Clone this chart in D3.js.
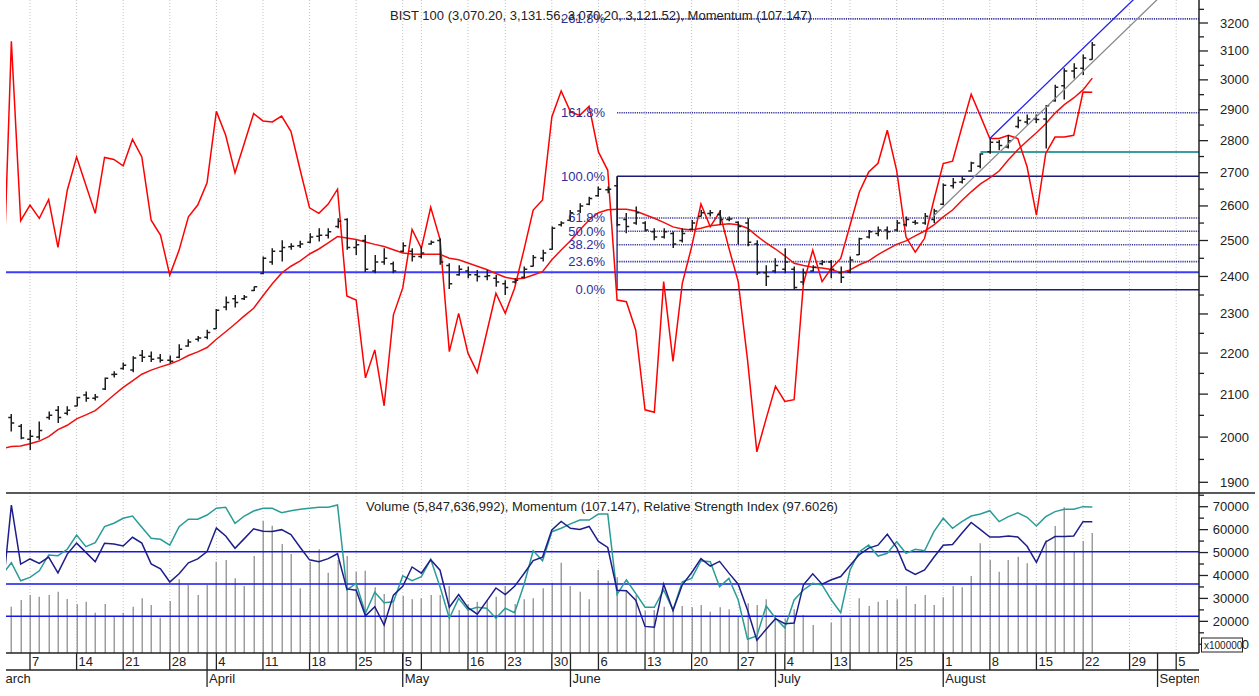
<!DOCTYPE html>
<html>
<head>
<meta charset="utf-8">
<script src="https://d3js.org/d3.v7.min.js"></script>
<style>
    body { margin: 0; background: #ffffff; }
    svg { display: block; }
    text {
        font-family: "Liberation Sans", Arial, sans-serif;
        font-size: 13px;
        fill: #222222;
    }
    text.fib-label { fill: #2e2e9a; }
    text.unit { font-size: 10px; }
</style>
</head>
<body>
<div id="container"></div>
<script>
    // trading days shown on the chart
    const dates = [
        "2022-03-02","2022-03-03","2022-03-04","2022-03-07","2022-03-08","2022-03-09","2022-03-10","2022-03-11",
        "2022-03-14","2022-03-15","2022-03-16","2022-03-17","2022-03-18","2022-03-21","2022-03-22","2022-03-23",
        "2022-03-24","2022-03-25","2022-03-28","2022-03-29","2022-03-30","2022-03-31",
        "2022-04-01","2022-04-04","2022-04-05","2022-04-06","2022-04-07","2022-04-08","2022-04-11","2022-04-12",
        "2022-04-13","2022-04-14","2022-04-15","2022-04-18","2022-04-19","2022-04-20","2022-04-21","2022-04-22",
        "2022-04-25","2022-04-26","2022-04-27","2022-04-28","2022-04-29",
        "2022-05-05","2022-05-06","2022-05-09","2022-05-10","2022-05-11","2022-05-12","2022-05-13","2022-05-16",
        "2022-05-17","2022-05-18","2022-05-20","2022-05-23","2022-05-24","2022-05-25","2022-05-26","2022-05-27",
        "2022-05-30","2022-05-31",
        "2022-06-01","2022-06-02","2022-06-03","2022-06-06","2022-06-07","2022-06-08","2022-06-09","2022-06-10",
        "2022-06-13","2022-06-14","2022-06-15","2022-06-16","2022-06-17","2022-06-20","2022-06-21","2022-06-22",
        "2022-06-23","2022-06-24","2022-06-27","2022-06-28","2022-06-29","2022-06-30",
        "2022-07-01","2022-07-04","2022-07-05","2022-07-06","2022-07-07","2022-07-08","2022-07-13","2022-07-14",
        "2022-07-18","2022-07-19","2022-07-20","2022-07-21","2022-07-22","2022-07-25","2022-07-26","2022-07-27",
        "2022-07-28","2022-07-29",
        "2022-08-01","2022-08-02","2022-08-03","2022-08-04","2022-08-05","2022-08-08","2022-08-09","2022-08-10",
        "2022-08-11","2022-08-12","2022-08-15","2022-08-16","2022-08-17","2022-08-18","2022-08-19","2022-08-22",
        "2022-08-23"
    ];
    // empty days on the right of the time axis
    const futureDays = ["2022-08-24","2022-08-25","2022-08-26","2022-08-29","2022-08-30","2022-08-31",
        "2022-09-01","2022-09-02","2022-09-05","2022-09-06","2022-09-07","2022-09-08","2022-09-09"];
    const firstAxisDay = "2022-03-01";

    // BIST 100 prices (by month: Mar, Apr, May, Jun, Jul, Aug)
    const open = [
        1985, 2045, 2025, 1995, 2000, 2045, 2062, 2055, 2072, 2098, 2090, 2112, 2147, 2162, 2158, 2195, 2192, 2188, 2182, 2190, 2218, 2235,
        2240, 2262, 2318, 2340, 2340, 2362, 2408, 2440, 2470, 2482, 2485, 2495, 2512, 2515, 2540, 2560, 2480, 2500, 2415, 2440, 2435,
        2470, 2470, 2455, 2490, 2500, 2430, 2405, 2415, 2405, 2400, 2395, 2380, 2385, 2398, 2428, 2450, 2475, 2545,
        2558, 2585, 2605, 2630, 2648, 2660, 2560, 2550, 2550, 2525, 2510, 2520, 2500, 2532, 2570, 2578, 2575, 2560, 2552, 2550, 2490, 2410,
        2415, 2420, 2420, 2385, 2415, 2435, 2440, 2410, 2412, 2460, 2510, 2520, 2530, 2530, 2545, 2552, 2550, 2560,
        2605, 2660, 2672, 2705, 2720, 2765, 2795, 2780, 2845, 2860, 2870, 2870, 2930, 2980, 3030, 3040, 3070.20
    ];
    const high = [
        2010, 2053, 2030, 2016, 2036, 2059, 2072, 2071, 2094, 2106, 2100, 2140, 2155, 2177, 2192, 2208, 2204, 2198, 2194, 2222, 2235, 2243,
        2259, 2313, 2346, 2350, 2350, 2373, 2455, 2478, 2501, 2492, 2499, 2521, 2535, 2535, 2564, 2564, 2501, 2516, 2459, 2478, 2441,
        2495, 2478, 2483, 2500, 2506, 2436, 2431, 2427, 2418, 2418, 2404, 2390, 2395, 2427, 2459, 2474, 2540, 2555,
        2588, 2608, 2627, 2658, 2658, 2689, 2579, 2598, 2555, 2535, 2535, 2526, 2535, 2559, 2588, 2588, 2588, 2569, 2555, 2564, 2501, 2431,
        2450, 2478, 2427, 2422, 2431, 2445, 2445, 2427, 2455, 2508, 2530, 2540, 2540, 2559, 2569, 2559, 2579, 2592,
        2667, 2684, 2688, 2734, 2760, 2807, 2802, 2818, 2878, 2884, 2884, 2916, 2983, 3040, 3057, 3088, 3131.56
    ];
    const low = [
        1975, 2013, 1995, 1971, 1994, 2040, 2032, 2050, 2071, 2082, 2085, 2110, 2140, 2159, 2153, 2178, 2178, 2177, 2175, 2187, 2216, 2229,
        2235, 2261, 2310, 2317, 2337, 2361, 2406, 2432, 2441, 2474, 2479, 2492, 2497, 2506, 2535, 2474, 2459, 2412, 2409, 2432, 2409,
        2466, 2441, 2450, 2488, 2432, 2366, 2402, 2395, 2386, 2390, 2372, 2350, 2381, 2395, 2427, 2441, 2474, 2540,
        2555, 2579, 2602, 2627, 2638, 2541, 2521, 2545, 2526, 2501, 2506, 2479, 2494, 2530, 2569, 2569, 2545, 2555, 2489, 2484, 2404, 2374,
        2409, 2409, 2364, 2377, 2413, 2431, 2395, 2382, 2409, 2459, 2506, 2512, 2503, 2526, 2540, 2545, 2545, 2550,
        2602, 2652, 2667, 2703, 2714, 2759, 2770, 2775, 2840, 2851, 2857, 2775, 2926, 2934, 3005, 3017, 3070.20
    ];
    const close = [
        2000, 2032, 1998, 2002, 2015, 2050, 2045, 2062, 2092, 2090, 2093, 2138, 2148, 2170, 2188, 2190, 2185, 2182, 2180, 2210, 2228, 2238,
        2252, 2310, 2330, 2330, 2345, 2372, 2450, 2470, 2480, 2484, 2490, 2510, 2515, 2525, 2555, 2480, 2488, 2420, 2440, 2450, 2415,
        2485, 2455, 2465, 2495, 2440, 2380, 2420, 2405, 2400, 2402, 2385, 2370, 2390, 2420, 2452, 2465, 2535, 2550,
        2580, 2600, 2622, 2650, 2650, 2545, 2540, 2580, 2530, 2510, 2525, 2490, 2520, 2550, 2580, 2580, 2560, 2562, 2540, 2495, 2410, 2400,
        2430, 2440, 2370, 2410, 2425, 2440, 2420, 2398, 2445, 2505, 2525, 2530, 2525, 2550, 2560, 2550, 2570, 2585,
        2662, 2670, 2680, 2730, 2758, 2795, 2785, 2800, 2865, 2870, 2868, 2913, 2975, 3030, 3040, 3075, 3121.52
    ];
    // moving average drawn over the price bars
    const movingAvg = [
        1974, 1979, 1980, 1985, 1991, 2001, 2017, 2027, 2042, 2051, 2061, 2079, 2098, 2116, 2132, 2148, 2158, 2166, 2173, 2182, 2194, 2203,
        2214, 2235, 2254, 2274, 2295, 2315, 2348, 2380, 2409, 2428, 2443, 2462, 2476, 2493, 2511, 2507, 2503, 2496, 2489, 2483, 2474,
        2465, 2462, 2461, 2461, 2461, 2450, 2446, 2437, 2428, 2419, 2408, 2398, 2393, 2395, 2404, 2413, 2446, 2473,
        2499, 2530, 2559, 2580, 2589, 2590, 2590, 2585, 2574, 2564, 2552, 2539, 2533, 2530, 2535, 2542, 2545, 2548, 2545, 2535, 2513, 2493,
        2476, 2457, 2436, 2430, 2425, 2423, 2419, 2410, 2418, 2432, 2443, 2460, 2475, 2489, 2499, 2513, 2527, 2545,
        2568, 2588, 2616, 2642, 2666, 2684, 2705, 2740, 2771, 2799, 2825, 2854, 2889, 2917, 2939, 2966, 3006
    ];
    const momentum = [
        97.99, 109.17, 102.05, 102.67, 102.14, 102.89, 100.99, 103.26, 104.58, 103.46, 102.34, 104.56, 104.48, 104.23, 105.28, 104.58, 102.07, 101.48, 99.89, 100.88, 102.20, 102.67,
        103.55, 106.39, 105.44, 103.95, 105.12, 106.30, 106.01, 105.97, 106.20, 105.60, 104.05, 102.56, 102.34, 102.71, 103.30, 99.06, 98.90, 95.81, 96.92, 94.70, 98.31,
        99.38, 101.70, 100.95, 102.58, 101.31, 96.85, 98.37, 96.79, 96.02, 97.59, 99.17, 98.37, 99.37, 100.88, 102.47, 102.87, 106.17, 107.20,
        106.37, 106.23, 106.59, 104.78, 104.05, 98.90, 98.83, 97.71, 94.54, 94.44, 99.63, 96.46, 99.56, 101.01, 102.71, 101.81, 102.38, 100.96, 99.63, 96.52, 92.87, 94.19,
        95.47, 94.87, 94.94, 99.56, 100.88, 99.63, 100.16, 100.55, 101.87, 103.19, 103.98, 104.33, 105.64, 104.05, 101.41, 100.80, 101.35, 102.87,
        104.32, 104.41, 105.76, 107.07, 106.20, 105.31, 105.31, 105.44, 105.31, 104.19, 102.27, 104.72, 105.37, 105.37, 105.44, 107.16, 107.147
    ];
    const rsi = [
        55.6, 63.2, 52.0, 54.1, 58.2, 68.0, 67.5, 71.5, 80.3, 73.1, 75.6, 85.5, 87.6, 90.7, 92.1, 85.1, 78.3, 77.7, 74.1, 85.5, 90.1, 90.1,
        92.7, 96.9, 97.5, 87.6, 92.1, 95.2, 96.9, 96.9, 94.1, 95.4, 96.3, 96.9, 97.5, 97.5, 98.9, 46.3, 50.4, 31.9, 44.9, 38.4, 39.0,
        55.0, 52.0, 54.5, 65.3, 48.3, 28.8, 41.1, 33.9, 35.6, 35.0, 28.8, 35.0, 32.2, 49.4, 70.6, 64.4, 82.4, 84.5,
        87.2, 89.6, 89.6, 93.3, 93.3, 43.6, 52.5, 44.2, 35.6, 35.6, 46.3, 33.9, 51.4, 53.5, 64.4, 63.8, 48.3, 53.5, 40.1, 15.8, 17.8, 36.4,
        28.8, 22.9, 40.1, 46.3, 50.4, 49.4, 40.1, 32.2, 58.7, 70.0, 74.1, 67.3, 69.0, 76.2, 69.0, 71.5, 70.6, 82.4,
        90.7, 84.5, 88.6, 92.1, 93.3, 95.4, 88.6, 91.7, 94.1, 91.3, 85.9, 91.7, 94.8, 96.3, 96.3, 97.9, 97.6026
    ];
    // volume in units of 100000 shares
    const volume = [
        29300, 26380, 29300, 31490, 30750, 31490, 32930, 29740, 27430, 28560, 23770, 27560, 22020, 23770, 26380, 30050, 27120, 21590, 28870, 38330, 35850, 31490,
        35850, 46010, 46750, 38770, 35410, 48490, 63760, 61710, 53730, 49370, 34410, 46010, 51420, 41210, 46750, 48490, 41650, 42080, 34840, 31920, 29300,
        31050, 29610, 30050, 31490, 31490, 35410, 24950, 27430, 28560, 29300, 30750, 35410, 27560, 29610, 30050, 34410, 36850, 45570,
        35410, 32930, 29610, 42390, 37720, 39210, 33670, 31490, 24640, 24950, 26380, 26380, 26690, 26120, 27120, 24200, 26120, 25250, 22020, 27870, 27120, 29610,
        22760, 21330, 25250, 22760, 18400, 6320, 19410, 22330, 21590, 30050, 26690, 28560, 29300, 29610, 35410, 27560, 31490, 27120,
        30480, 35410, 34840, 39770, 54030, 46750, 41650, 46750, 48190, 45310, 35850, 55470, 61580, 69730, 50370, 55040, 58476.36992
    ];

    // drawing tools
    const fibHigh = {date: "2022-06-08", value: 2689};
    const fibLow = {date: "2022-07-05", value: 2364};
    const fibLevels = [0, 0.236, 0.382, 0.5, 0.618, 1, 1.618, 2.618];
    const upperTrend = [{date: "2022-08-08", value: 2807}, {date: "2022-08-23", value: 3141}];
    const lowerTrend = [{date: "2022-07-29", value: 2571}, {date: "2022-08-23", value: 3060}];
    const support = {date: "2022-08-05", value: 2764};

    // axis ticks
    const priceTicks = [1900, 2000, 2100, 2200, 2300, 2400, 2500, 2600, 2700, 2800, 2900, 3000, 3100, 3200];
    const priceMinor = [1950, 2050, 2150, 2250, 2350, 2450, 2550, 2650, 2750, 2850, 2950, 3050, 3150, 3250];
    const volTicks = [10000, 20000, 30000, 40000, 50000, 60000, 70000];
    const volMinor = [15000, 25000, 35000, 45000, 55000, 65000, 75000];
    const rsiLevels = [30, 50, 70];

    // layout
    const W = 1259, H = 696;
    const left = 6, right = 1199;
    const topY0 = 0, topY1 = 493, lowY1 = 653, dayY1 = 670, monthY1 = 688;

    const svg = d3.select("#container").append("svg")
        .attr("width", W).attr("height", H);

    const defs = svg.append("defs");
    defs.append("clipPath").attr("id", "clipTop").append("rect")
        .attr("x", left).attr("y", topY0).attr("width", right - left).attr("height", topY1 - topY0);
    defs.append("clipPath").attr("id", "clipLow").append("rect")
        .attr("x", left).attr("y", topY1).attr("width", right - left).attr("height", lowY1 - topY1);
    defs.append("clipPath").attr("id", "clipAxis").append("rect")
        .attr("x", left - 1).attr("y", lowY1).attr("width", right - left + 1).attr("height", H - lowY1);

    // scales
    const x = d3.scaleLinear().domain([3, 116]).range([30, 1083]);
    const xd = d => x(dates.indexOf(d));
    const y = d3.scaleLog().domain([1900, 3200]).range([482.3, 23]);
    const yMom = d3.scaleLinear().domain([100, 107.147]).range([272.3, 92.3]);
    const yVol = d3.scaleLinear().domain([0, 70000]).range([667.2, 506.7]);
    const yRsi = d3.scaleLinear().domain([30, 70]).range([616.3, 551.7]);
    const yMom2 = d3.scaleLinear().domain([100, 107.147]).range([581.1, 521.8]);

    const idx = d3.range(dates.length);

    // time axis days and week / month ticks
    const parse = d3.timeParse("%Y-%m-%d");
    const axisDays = [firstAxisDay, ...dates, ...futureDays].map(parse);
    const xAxisDay = j => x(j - 1);
    const weekTicks = [], monthTicks = [];
    let lastLabelX = -1e9;
    axisDays.forEach((d, j) => {
        const prev = axisDays[j - 1];
        if (j === 0 || +d3.timeMonday.floor(d) !== +d3.timeMonday.floor(prev)) {
            const xx = xAxisDay(j);
            // skip labels off the left edge or crowding the previous one
            const show = xx > left && xx - lastLabelX >= 30;
            if (show) lastLabelX = xx;
            weekTicks.push({x: xx, label: show ? d3.timeFormat("%-d")(d) : ""});
        }
        if (j === 0 || d.getMonth() !== prev.getMonth()) {
            monthTicks.push({x: xAxisDay(j), label: d3.timeFormat("%B")(d)});
        }
    });

    // gridlines
    svg.append("g").selectAll("line").data(weekTicks).join("line")
        .attr("x1", d => d.x).attr("x2", d => d.x)
        .attr("y1", topY0).attr("y2", lowY1)
        .attr("stroke", "#c4c4c4").attr("stroke-width", 1)
        .attr("stroke-dasharray", "1,2")
        .attr("clip-path", "url(#clipTop)");
    svg.append("g").selectAll("line").data(weekTicks).join("line")
        .attr("x1", d => d.x).attr("x2", d => d.x)
        .attr("y1", topY1).attr("y2", lowY1)
        .attr("stroke", "#c4c4c4").attr("stroke-width", 1)
        .attr("stroke-dasharray", "1,2")
        .attr("clip-path", "url(#clipLow)");

    // ---------- top panel ----------
    const gTop = svg.append("g").attr("clip-path", "url(#clipTop)");

    // fibonacci levels
    const fibX = xd(fibHigh.date);
    const fibRange = fibHigh.value - fibLow.value;
    fibLevels.forEach(p => {
        const v = fibLow.value + p * fibRange;
        const solid = (p === 0 || p === 1);
        gTop.append("line")
            .attr("x1", fibX).attr("x2", right)
            .attr("y1", y(v)).attr("y2", y(v))
            .attr("stroke", solid ? "#1c1c78" : "#36369a")
            .attr("stroke-width", solid ? 1.5 : 1.6)
            .attr("stroke-dasharray", solid ? null : "1.2,1");
    });
    gTop.append("line")
        .attr("x1", fibX).attr("x2", fibX)
        .attr("y1", y(fibHigh.value)).attr("y2", y(fibLow.value))
        .attr("stroke", "#1c1c78").attr("stroke-width", 1.3);

    // momentum 100 line
    gTop.append("line")
        .attr("x1", left).attr("x2", right)
        .attr("y1", yMom(100)).attr("y2", yMom(100))
        .attr("stroke", "#3c3cff").attr("stroke-width", 2);

    // support line
    gTop.append("line")
        .attr("x1", xd(support.date)).attr("x2", right)
        .attr("y1", y(support.value)).attr("y2", y(support.value))
        .attr("stroke", "#3a9e9e").attr("stroke-width", 2);

    // moving average and momentum
    gTop.append("path")
        .datum(idx)
        .attr("fill", "none").attr("stroke", "#f01010").attr("stroke-width", 1.5)
        .attr("d", d3.line().x(i => x(i)).y(i => y(movingAvg[i])));
    gTop.append("path")
        .datum(idx)
        .attr("fill", "none").attr("stroke", "#ff0000").attr("stroke-width", 1.5)
        .attr("d", d3.line().x(i => x(i)).y(i => yMom(momentum[i])));

    // OHLC bars
    gTop.append("g").selectAll("path").data(idx).join("path")
        .attr("fill", "none").attr("stroke", "#1e1e1e").attr("stroke-width", 1.5)
        .attr("d", i => {
            const xx = Math.round(x(i)) + 0.25;
            return `M${xx},${y(high[i])}V${y(low[i])}` +
                `M${xx - 3},${y(open[i])}H${xx}` +
                `M${xx},${y(close[i])}H${xx + 3}`;
        });

    // trend channel
    function trend(pts, color) {
        const x1 = xd(pts[0].date), y1 = y(pts[0].value);
        const x2 = xd(pts[1].date), y2 = y(pts[1].value);
        const slope = (y2 - y1) / (x2 - x1);
        gTop.append("line")
            .attr("x1", x1).attr("y1", y1)
            .attr("x2", right).attr("y2", y1 + slope * (right - x1))
            .attr("stroke", color).attr("stroke-width", 1.3);
    }
    trend(upperTrend, "#2020f0");
    trend(lowerTrend, "#8a8a8a");

    // fibonacci labels
    fibLevels.forEach(p => {
        const v = fibLow.value + p * fibRange;
        svg.append("text").attr("class", "fib-label")
            .attr("x", fibX - 12).attr("y", y(v) + 4.5)
            .attr("text-anchor", "end")
            .text((p * 100).toFixed(1) + "%");
    });

    // ---------- lower panel ----------
    const gLow = svg.append("g").attr("clip-path", "url(#clipLow)");

    gLow.append("g").selectAll("line").data(idx).join("line")
        .attr("x1", i => Math.round(x(i)) + 0.25).attr("x2", i => Math.round(x(i)) + 0.25)
        .attr("y1", lowY1).attr("y2", i => yVol(volume[i]))
        .attr("stroke", "#9d9d9d").attr("stroke-width", 1.5);

    gLow.append("g").selectAll("line").data(rsiLevels).join("line")
        .attr("x1", left).attr("x2", right)
        .attr("y1", d => yRsi(d)).attr("y2", d => yRsi(d))
        .attr("stroke", "#1616e6").attr("stroke-width", 1.5);

    gLow.append("path")
        .datum(idx)
        .attr("fill", "none").attr("stroke", "#2a9c97").attr("stroke-width", 1.5)
        .attr("d", d3.line().x(i => x(i)).y(i => yRsi(rsi[i])));
    gLow.append("path")
        .datum(idx)
        .attr("fill", "none").attr("stroke", "#1e1e8a").attr("stroke-width", 1.5)
        .attr("d", d3.line().x(i => x(i)).y(i => yMom2(momentum[i])));

    // ---------- frames and axes ----------
    const frame = svg.append("g").attr("stroke", "#222222").attr("stroke-width", 1.5);
    frame.append("line").attr("x1", left).attr("x2", 1255).attr("y1", topY1).attr("y2", topY1);
    frame.append("line").attr("x1", left).attr("x2", right).attr("y1", lowY1).attr("y2", lowY1);
    frame.append("line").attr("x1", left).attr("x2", right).attr("y1", dayY1).attr("y2", dayY1);
    frame.append("line").attr("x1", right).attr("x2", right).attr("y1", 0).attr("y2", lowY1);

    // price axis
    const gPrice = svg.append("g");
    gPrice.selectAll("line.major").data(priceTicks).join("line")
        .attr("x1", right).attr("x2", right + 9)
        .attr("y1", d => y(d)).attr("y2", d => y(d))
        .attr("stroke", "#222").attr("stroke-width", 1.3);
    gPrice.selectAll("line.minor").data(priceMinor).join("line")
        .attr("x1", right).attr("x2", right + 5)
        .attr("y1", d => y(d)).attr("y2", d => y(d))
        .attr("stroke", "#222").attr("stroke-width", 1.3);
    gPrice.selectAll("text").data(priceTicks).join("text")
        .attr("x", 1249).attr("y", d => y(d) + 4.5)
        .attr("text-anchor", "end")
        .text(d => d);

    // volume axis
    const gVol = svg.append("g");
    gVol.selectAll("line.major").data(volTicks).join("line")
        .attr("x1", right).attr("x2", right + 9)
        .attr("y1", d => yVol(d)).attr("y2", d => yVol(d))
        .attr("stroke", "#222").attr("stroke-width", 1.3);
    gVol.selectAll("line.minor").data(volMinor).join("line")
        .attr("x1", right).attr("x2", right + 5)
        .attr("y1", d => yVol(d)).attr("y2", d => yVol(d))
        .attr("stroke", "#222").attr("stroke-width", 1.3);
    gVol.selectAll("text").data(volTicks).join("text")
        .attr("x", 1249).attr("y", d => yVol(d) + 4.5)
        .attr("text-anchor", "end")
        .text(d => d);
    gVol.append("rect")
        .attr("x", 1201.5).attr("y", 638).attr("width", 41).attr("height", 14)
        .attr("fill", "#ffffff").attr("stroke", "#222").attr("stroke-width", 1);
    gVol.append("text").attr("class", "unit")
        .attr("x", 1204).attr("y", 649)
        .text("x100000");

    // time axis
    const gTime = svg.append("g").attr("clip-path", "url(#clipAxis)");
    gTime.selectAll("line.week").data(weekTicks).join("line")
        .attr("x1", d => d.x).attr("x2", d => d.x)
        .attr("y1", lowY1).attr("y2", dayY1)
        .attr("stroke", "#222").attr("stroke-width", 1.3);
    gTime.selectAll("text.week").data(weekTicks.filter(d => d.label)).join("text")
        .attr("x", d => d.x + 2).attr("y", 666)
        .text(d => d.label);
    gTime.selectAll("line.month").data(monthTicks).join("line")
        .attr("x1", d => d.x).attr("x2", d => d.x)
        .attr("y1", lowY1).attr("y2", monthY1 - 1)
        .attr("stroke", "#222").attr("stroke-width", 1.3);
    gTime.selectAll("text.month").data(monthTicks).join("text")
        .attr("x", d => d.x + 2).attr("y", 683)
        .text(d => d.label);

    // titles
    const last = dates.length - 1;
    const f2 = d3.format(",.2f");
    svg.append("text")
        .attr("x", 601).attr("y", 19.5)
        .attr("text-anchor", "middle")
        .text(`BIST 100 (${f2(open[last])}, ${f2(high[last])}, ${f2(low[last])}, ${f2(close[last])}), Momentum (${momentum[last]})`);
    svg.append("text")
        .attr("x", 602).attr("y", 510.5)
        .attr("text-anchor", "middle")
        .text(`Volume (${d3.format(",")(Math.round(volume[last] * 100000))}), Momentum (${momentum[last]}), Relative Strength Index (${rsi[last]})`);
</script>
</body>
</html>
